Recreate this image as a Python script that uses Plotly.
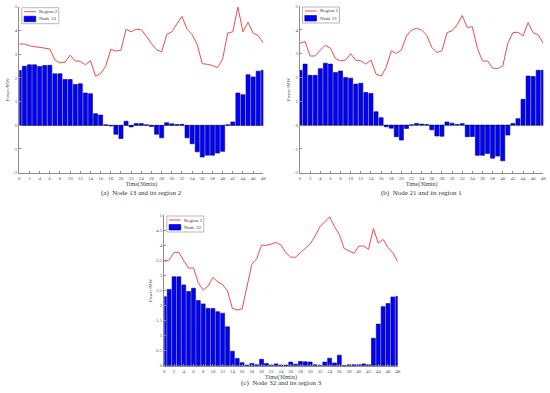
import plotly.graph_objects as go

t = list(range(49))
x_ticks = list(range(0, 49, 2))

region2 = [3.42, 3.43, 3.35, 3.32, 3.29, 3.26, 3.22, 2.75, 2.63, 2.66, 2.96, 2.71, 2.7, 2.55, 2.72, 2.07, 2.18, 2.49, 3.2, 3.13, 3.17,
           4.05, 3.94, 4.05, 4.03, 3.75, 3.44, 3.19, 3.09, 3.83, 3.94, 4.28, 4.59, 4.05, 3.83, 3.4, 2.6, 2.57, 2.52, 2.43, 2.8,
           3.89, 3.94, 4.98, 3.94, 4.34, 3.89, 3.78, 3.47]
node13 = [2.31, 2.49, 2.55, 2.55, 2.48, 2.52, 2.53, 2.17, 2.17, 1.93, 1.93, 1.72, 1.75, 1.36, 1.33, 0.49, 0.43, 0.02, -0.03, -0.38,
          -0.56, 0.17, -0.07, 0.07, 0.07, 0.02, -0.05, -0.38, -0.53, 0.11, 0.06, 0.03, 0.04, -0.53, -0.78, -1.12, -1.34, -1.26,
          -1.26, -1.17, -1.1, 0.02, 0.14, 1.36, 1.29, 2.13, 2.04, 2.28, 2.32]

region1 = [3.43, 3.51, 2.9, 2.9, 3.15, 3.35, 3.23, 2.79, 2.7, 2.73, 3.0, 2.72, 2.7, 2.56, 2.73, 2.14, 2.06, 2.42, 3.12, 3.01, 3.15,
           3.74, 3.99, 4.06, 3.99, 3.77, 3.26, 3.05, 3.12, 3.88, 3.96, 4.21, 4.6, 4.1, 4.13, 3.22, 2.69, 2.69, 2.39, 2.37, 2.48,
           3.43, 3.88, 3.9, 3.74, 4.3, 3.88, 3.79, 3.43]
node21 = [2.3, 2.56, 2.09, 2.09, 2.37, 2.6, 2.56, 2.21, 2.27, 2.0, 1.97, 1.72, 1.76, 1.37, 1.33, 0.56, 0.31, -0.07, -0.13, -0.49,
          -0.63, -0.14, 0.01, 0.07, 0.04, 0.02, -0.2, -0.46, -0.47, 0.13, 0.08, 0.02, 0.06, -0.49, -0.48, -1.27, -1.27, -1.19,
          -1.39, -1.3, -1.5, -0.42, 0.07, 0.27, 1.08, 2.06, 2.04, 2.3, 2.3]

region3 = [3.45, 3.51, 3.76, 3.76, 3.48, 3.23, 3.25, 2.75, 2.51, 2.64, 2.93, 2.78, 2.69, 2.48, 1.9, 1.85, 1.88, 2.62, 3.36, 3.55,
           4.0, 3.99, 4.04, 4.09, 4.0, 3.75, 3.6, 3.6, 3.75, 3.89, 4.04, 4.3, 4.61, 4.77, 4.94, 4.61, 4.35, 3.89, 3.82, 3.73,
           3.97, 3.97, 3.86, 4.55, 4.07, 4.19, 3.92, 3.75, 3.45]
node32 = [2.29, 2.53, 2.95, 2.95, 2.68, 2.46, 2.57, 2.16, 2.05, 1.9, 1.9, 1.79, 1.74, 1.29, 0.48, 0.24, 0.1, 0.02, 0.07, 0.03,
          0.21, 0.07, 0.02, 0.06, 0.02, 0.02, 0.12, 0.05, 0.14, 0.13, 0.12, 0.03, 0.01, 0.12, 0.25, 0.09, 0.35, 0.01, 0.03,
          0.03, 0.03, 0.06, 0.03, 0.91, 1.38, 1.96, 2.06, 2.28, 2.3]

panels = [
    ("Region 2", region2, "Node 13", node13, "(a)  Node 13 and its region 2"),
    ("Region 1", region1, "Node 21", node21, "(b)  Node 21 and its region 1"),
    ("Region 3", region3, "Node 32", node32, "(c)  Node 32 and its region 3"),
]

W, H = 550, 393
FONT = "Times New Roman, Liberation Serif, serif"
AXC = "#8c8c8c"
LINE_C = "#f24a4a"
BAR_C = "#0000ff"
EDGE_C = "#00007a"

# plot boxes in pixels: left, right, top, bottom
boxes = [(19.3, 263.3, 6.7, 172.7), (300.0, 543.3, 6.0, 172.7), (164.3, 397.7, 215.0, 365.7)]
yrng = [[-2, 5], [-2, 5], [0, 5]]
ytick = [list(range(-2, 6)), list(range(-2, 6)), [i * 0.5 for i in range(11)]]
ytext = [[str(v) for v in ytick[0]], [str(v) for v in ytick[1]],
         ["0", "0.5", "1", "1.5", "2", "2.5", "3", "3.5", "4", "4.5", "5"]]


def px(x):
    return x / W


def py(y):
    return 1 - y / H


fig = go.Figure()
layout = dict(
    width=W, height=H,
    margin=dict(l=0, r=0, t=0, b=0, autoexpand=False),
    paper_bgcolor="white", plot_bgcolor="white",
    font=dict(family=FONT, size=5, color="#444"),
    bargap=0.2,
    showlegend=False,
    annotations=[],
    shapes=[],
)

for i, (lname, lvals, bname, bvals, cap) in enumerate(panels):
    sfx = "" if i == 0 else str(i + 1)
    L, R, T, B = boxes[i]
    fig.add_trace(go.Bar(x=t, y=bvals, name=bname, marker=dict(color=BAR_C, line=dict(color=EDGE_C, width=0.6)),
                         xaxis="x" + sfx, yaxis="y" + sfx))
    fig.add_trace(go.Scatter(x=t, y=lvals, name=lname, mode="lines", line=dict(color=LINE_C, width=1),
                             xaxis="x" + sfx, yaxis="y" + sfx))
    layout["xaxis" + sfx] = dict(
        domain=[px(L), px(R)], anchor="y" + sfx, range=[0, 48], tickvals=x_ticks, ticktext=[str(v) for v in x_ticks],
        showline=True, linecolor=AXC, linewidth=1, ticks="inside", ticklen=2, tickcolor=AXC, tickwidth=0.8,
        showgrid=False, zeroline=False, tickfont=dict(size=5, color="#555"), automargin=False,
        title=dict(text="Time(30min)", font=dict(size=6, color="#444"), standoff=2),
    )
    layout["yaxis" + sfx] = dict(
        domain=[py(B), py(T)], anchor="x" + sfx, range=yrng[i], tickvals=ytick[i], ticktext=ytext[i],
        showline=True, linecolor=AXC, linewidth=1, ticks="inside", ticklen=2, tickcolor=AXC, tickwidth=0.8,
        showgrid=False, zeroline=(i < 2), zerolinecolor="#a0a0a0", zerolinewidth=1,
        tickfont=dict(size=5, color="#555"), automargin=False,
        title=dict(text="Power/MW", font=dict(size=5, color="#444"), standoff=3),
    )
    # legend box (drawn as shapes + text)
    lx0, ly0 = L + 2.5, T + 1.0
    lx1, ly1 = lx0 + 37.0, ly0 + 16.0
    layout["shapes"].append(dict(type="rect", xref="paper", yref="paper", x0=px(lx0), x1=px(lx1), y0=py(ly1), y1=py(ly0),
                                 line=dict(color="#9a9a9a", width=0.7), fillcolor="white", layer="above"))
    layout["shapes"].append(dict(type="line", xref="paper", yref="paper", x0=px(lx0 + 2.3), x1=px(lx0 + 14),
                                 y0=py(ly0 + 4.0), y1=py(ly0 + 4.0), line=dict(color=LINE_C, width=1), layer="above"))
    layout["shapes"].append(dict(type="rect", xref="paper", yref="paper", x0=px(lx0 + 2.3), x1=px(lx0 + 14),
                                 y0=py(ly0 + 14.0), y1=py(ly0 + 8.5), line=dict(color=EDGE_C, width=0.6),
                                 fillcolor=BAR_C, layer="above"))
    for txt, yy in ((lname, ly0 + 4.0), (bname, ly0 + 11.2)):
        layout["annotations"].append(dict(text=txt, x=px(lx0 + 15), y=py(yy), xref="paper", yref="paper",
                                          xanchor="left", yanchor="middle", showarrow=False,
                                          font=dict(size=5, color="#333", family=FONT)))
    xc = (px(L) + px(R)) / 2
    layout["annotations"].append(dict(
        text=cap, x=xc, y=py(B + 20.5 if i < 2 else B + 17.0), xref="paper", yref="paper",
        xanchor="center", yanchor="middle", showarrow=False, font=dict(size=7, color="#333", family=FONT)))

fig.update_layout(**layout)
# remove the browser's default 8px page margin so the figure sits at the window's top-left corner
fig.write_html("out.html", config={"displayModeBar": False},
               post_script="document.body.style.margin='0px';")
